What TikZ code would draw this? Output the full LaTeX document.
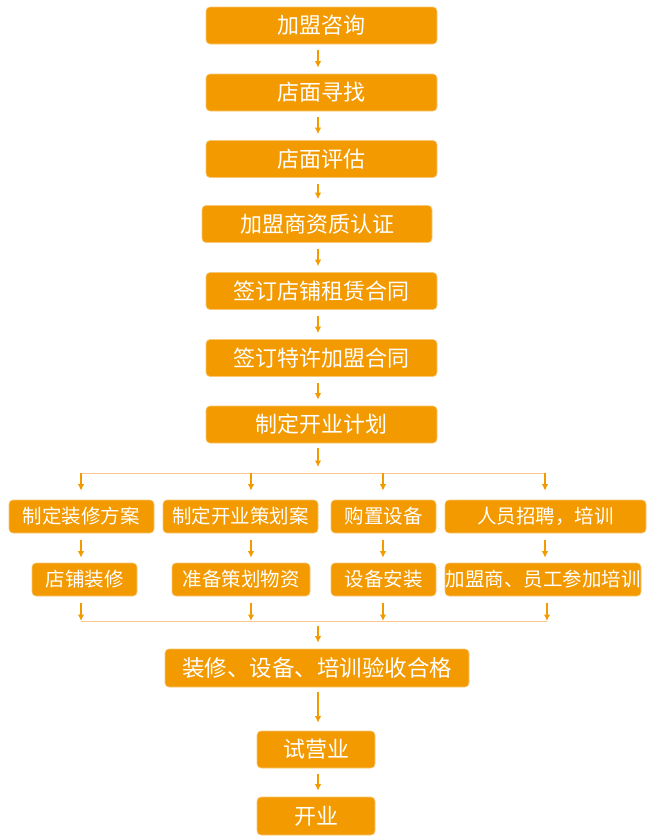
\documentclass[tikz,border=0pt]{standalone}
\usepackage{fontspec}
\setmainfont{Noto Sans CJK SC}
\usepackage{tikz}
\usetikzlibrary{arrows.meta}
\definecolor{boxorange}{HTML}{F39A00}
\definecolor{railorange}{HTML}{F8C88C}
\tikzset{stage/.style = {fill=boxorange, draw=boxorange!55, line width=0.6pt,
                         rounded corners=4pt, text=white, inner sep=0,
                         font=\fontsize{22}{22}\selectfont,
                         minimum width=231pt, minimum height=37pt}}
\tikzset{substage/.style = {stage, font=\fontsize{19.5}{19.5}\selectfont,
                            minimum height=33pt}}
\tikzset{flow/.style = {draw=boxorange, line width=1.7pt,
                        -{Latex[length=6.5pt, width=6.5pt]}}}
\tikzset{rail/.style = {draw=railorange, line width=1pt}}

\begin{document}
\begin{tikzpicture}[x=1pt, y=-1pt]
    \useasboundingbox (0, 0) rectangle (660, 838);

    % main column
    \node [stage] (consult)   at (321.5, 25.5) {加盟咨询};
    \node [stage] (search)    at (321.5, 92.5) {店面寻找};
    \node [stage] (assess)    at (321.5, 159)  {店面评估};
    \node [stage, minimum width=230pt] (qualify) at (317, 224) {加盟商资质认证};
    \node [stage] (lease)     at (321.5, 291)  {签订店铺租赁合同};
    \node [stage] (franchise) at (321.5, 358)  {签订特许加盟合同};
    \node [stage] (plan)      at (321.5, 424.5) {制定开业计划};

    \coordinate (fork)  at (318, 473);
    \coordinate (forkA) at (81, 473);
    \coordinate (forkB) at (251, 473);
    \coordinate (forkC) at (383, 473);
    \coordinate (forkD) at (545, 473);
    \coordinate (join)  at (318, 621);
    \coordinate (joinA) at (81, 621);
    \coordinate (joinB) at (251, 621);
    \coordinate (joinC) at (383, 621);
    \coordinate (joinD) at (547, 621);

    % four branches
    \node [substage, minimum width=145pt] (designplan) at (81.5, 516.5)  {制定装修方案};
    \node [substage, minimum width=155pt] (eventplan)  at (240.5, 516.5) {制定开业策划案};
    \node [substage, minimum width=105pt] (buyequip)   at (383.5, 516.5) {购置设备};
    \node [substage, minimum width=201pt] (hire)       at (545.5, 516.5) {人员招聘，培训};
    \node [substage, minimum width=105pt] (fitout)     at (84.5, 579.5)  {店铺装修};
    \node [substage, minimum width=138pt] (supplies)   at (241, 579.5)   {准备策划物资};
    \node [substage, minimum width=105pt] (install)    at (383.5, 579.5) {设备安装};
    \node [substage, minimum width=196pt] (training)   at (543, 579.5)   {加盟商、员工参加培训};

    % final steps
    \node [stage, minimum width=304pt, minimum height=38pt,
           font=\fontsize{22.5}{22.5}\selectfont] (inspect) at (317, 668) {装修、设备、培训验收合格};
    \node [stage, minimum width=118pt] (trial)   at (316, 749.5) {试营业};
    \node [stage, minimum width=118pt, minimum height=38pt] (opening) at (316, 816) {开业};

    \foreach \a/\b in {consult/search, search/assess, assess/qualify,
                       qualify/lease, lease/franchise, franchise/plan}
        \draw [flow, shorten <=6pt, shorten >=6pt] (\a.south -| fork) -- (\b.north -| fork);

    \draw [flow, shorten <=5pt, shorten >=6pt] (plan.south -| fork) -- (fork);
    \draw [rail] (forkA) -- (forkD);
    \draw [rail] (joinA) -- (joinD);

    \foreach \c/\u/\l in {A/designplan/fitout, B/eventplan/supplies,
                          C/buyequip/install, D/hire/training} {
        \draw [flow, shorten >=9pt] (fork\c) -- (\u.north -| fork\c);
        \draw [flow, shorten <=7pt, shorten >=5pt] (\u.south -| fork\c) -- (\l.north -| fork\c);
        \draw [flow, shorten <=7pt] (\l.south -| join\c) -- (join\c);
    }

    \draw [flow, shorten <=5pt, shorten >=6pt] (join) -- (inspect.north -| join);
    \draw [flow, shorten <=5pt, shorten >=8pt] (inspect.south -| join) -- (trial.north -| join);
    \draw [flow, shorten <=6pt, shorten >=6pt] (trial.south -| join) -- (opening.north -| join);
  \end{tikzpicture}
\end{document}
